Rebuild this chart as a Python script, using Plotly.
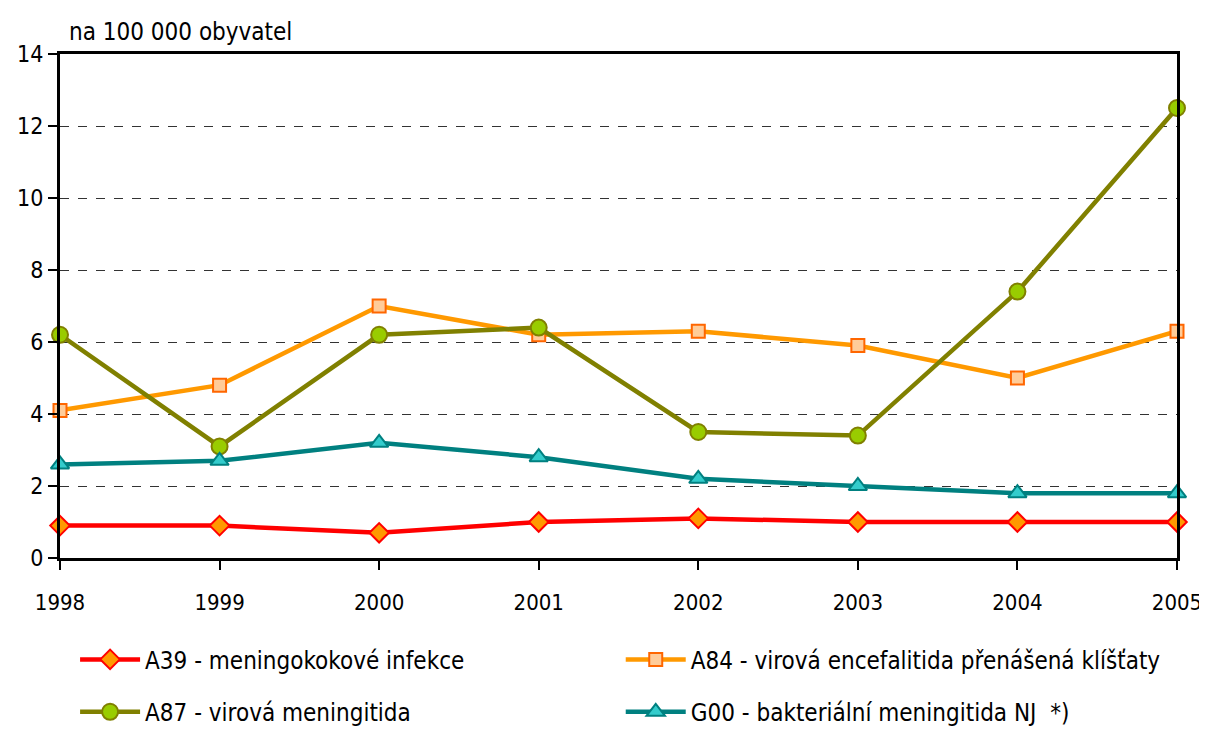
import plotly.graph_objects as go

years = [1998, 1999, 2000, 2001, 2002, 2003, 2004, 2005]
a39 = [0.9, 0.9, 0.7, 1.0, 1.1, 1.0, 1.0, 1.0]
a84 = [4.1, 4.8, 7.0, 6.2, 6.3, 5.9, 5.0, 6.3]
a87 = [6.2, 3.1, 6.2, 6.4, 3.5, 3.4, 7.4, 12.5]
g00 = [2.6, 2.7, 3.2, 2.8, 2.2, 2.0, 1.8, 1.8]

names = [
    "A39 - meningokokové infekce",
    "A84 - virová encefalitida přenášená klíšťaty",
    "A87 - virová meningitida",
    "G00 - bakteriální meningitida NJ  *)",
]

FONT = "DejaVu Sans Condensed, Liberation Sans Narrow, Arial Narrow, sans-serif"

styles = [
    dict(line="#FF0000", symbol="diamond", fill="#FF9900", edge="#FF0000", size=15),
    dict(line="#FF9900", symbol="square", fill="#FFCC99", edge="#FF6600", size=13),
    dict(line="#808000", symbol="circle", fill="#99CC00", edge="#808000", size=16),
    dict(line="#008080", symbol="triangle-up", fill="#33CCCC", edge="#008080", size=16),
]
legend_ids = ["legend", "legend2", "legend3", "legend4"]
legend_pos = [(0.0135, -0.202), (0.502, -0.202), (0.0135, -0.306), (0.502, -0.306)]

fig = go.Figure()
for name, vals, st, lg in zip(names, [a39, a84, a87, g00], styles, legend_ids):
    fig.add_trace(go.Scatter(
        x=years, y=vals, name=name, mode="lines+markers",
        line=dict(color=st["line"], width=4.5),
        marker=dict(symbol=st["symbol"], size=st["size"], color=st["fill"],
                    line=dict(color=st["edge"], width=2)),
        cliponaxis=False, legend=lg,
    ))

legends = {}
for lg, (lx, ly) in zip(legend_ids, legend_pos):
    legends[lg] = dict(orientation="h", x=lx, y=ly, xanchor="left", yanchor="middle",
                       itemwidth=60, font=dict(family=FONT, size=24, color="black"),
                       bgcolor="rgba(0,0,0,0)")

fig.update_layout(
    width=1199, height=721,
    margin=dict(l=52, r=30, t=46, b=171, autoexpand=False),
    plot_bgcolor="white", paper_bgcolor="white",
    font=dict(family=FONT, size=24, color="black"),
    showlegend=True,
    xaxis=dict(range=[1998, 2005], tickvals=years, ticktext=[str(y) for y in years],
               showgrid=False, showline=True, linecolor="black", linewidth=3,
               mirror=True, ticks="outside", ticklen=9, tickwidth=2, tickcolor="black",
               zeroline=False, ticklabelstandoff=14,
               tickfont=dict(family=FONT, size=22, color="black")),
    yaxis=dict(range=[0, 14], tickvals=list(range(0, 15, 2)),
               showgrid=True, gridcolor="#333333", griddash="dash", gridwidth=1,
               showline=True, linecolor="black", linewidth=3, mirror=True,
               ticks="outside", ticklen=9, tickwidth=2, tickcolor="black",
               zeroline=False, tickfont=dict(family=FONT, size=23, color="black")),
    annotations=[dict(text="na 100 000 obyvatel", xref="paper", yref="paper",
                      x=0.006, y=1.0, xanchor="left", yanchor="bottom", yshift=6,
                      showarrow=False, font=dict(family=FONT, size=24, color="black"))],
    **legends,
)

fig.write_html("out.html")
